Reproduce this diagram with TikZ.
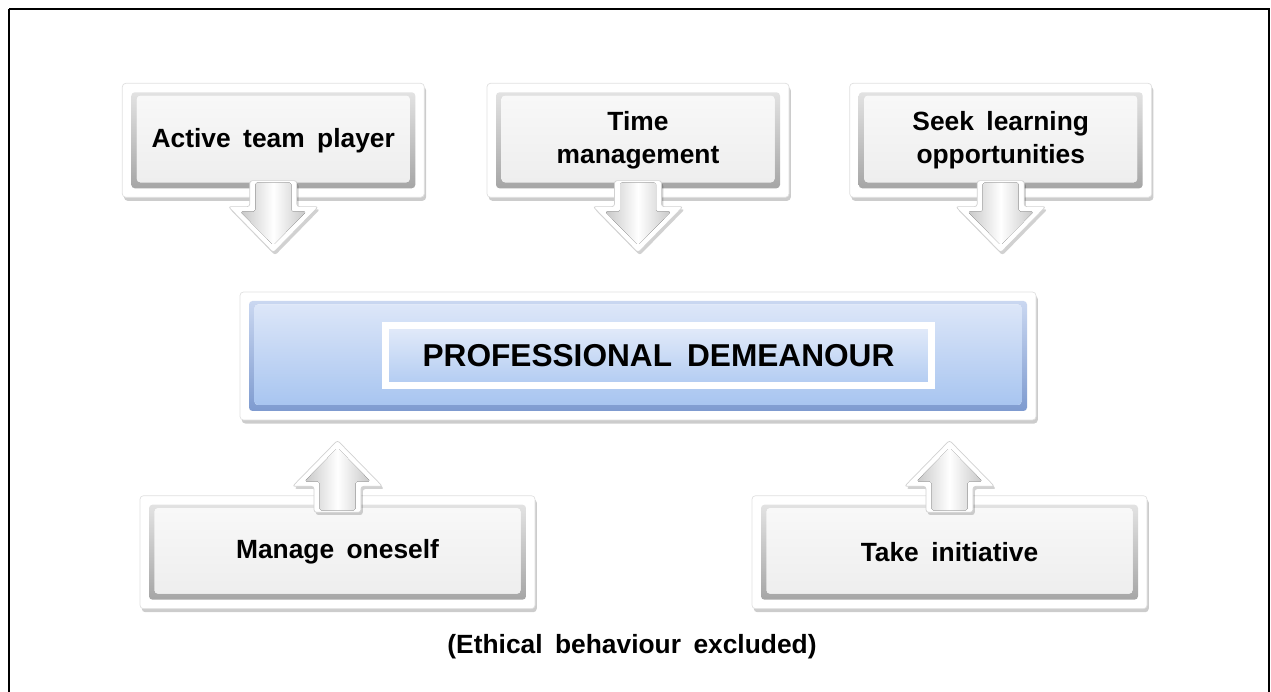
\documentclass[tikz,border=0pt]{standalone}
\usepackage{fontspec}
\setmainfont{Liberation Sans}[WordSpace=1.7]
\usepackage{tikz}
\usetikzlibrary{positioning,calc,shadows}
\definecolor{greytop}{RGB}{248,248,248}
\definecolor{greybot}{RGB}{238,238,238}
\definecolor{bevgtop}{RGB}{232,232,232}
\definecolor{bevgbot}{RGB}{160,160,160}
\definecolor{bluetop}{RGB}{220,230,248}
\definecolor{bluebot}{RGB}{168,197,240}
\definecolor{bevbtop}{RGB}{208,220,243}
\definecolor{bevbbot}{RGB}{120,150,205}
\tikzset{
  frame/.style={rectangle, rounded corners=2pt, draw=black!12, fill=white, inner sep=0pt, align=center,
    drop shadow={shadow xshift=1pt, shadow yshift=-2pt, opacity=0.2, fill=black}},
  greybox/.style={frame, font=\bfseries\fontsize{15}{19}\selectfont,
    path picture={
      \fill[top color=bevgtop, bottom color=bevgbot] ($(path picture bounding box.south west)+(0.18,0.18)$) rectangle ($(path picture bounding box.north east)+(-0.18,-0.18)$);
      \fill[top color=greytop, bottom color=greybot] ($(path picture bounding box.south west)+(0.29,0.3)$) rectangle ($(path picture bounding box.north east)+(-0.29,-0.25)$);
    }},
  topbox/.style={greybox, minimum width=6.04cm, minimum height=2.28cm},
  botbox/.style={greybox, minimum width=7.9cm, minimum height=2.26cm},
  centre/.style={frame, minimum width=15.92cm, minimum height=2.56cm,
    path picture={
      \fill[top color=bevbtop, bottom color=bevbbot] ($(path picture bounding box.south west)+(0.18,0.18)$) rectangle ($(path picture bounding box.north east)+(-0.18,-0.18)$);
      \fill[top color=bluetop, bottom color=bluebot] ($(path picture bounding box.south west)+(0.29,0.3)$) rectangle ($(path picture bounding box.north east)+(-0.29,-0.25)$);
    }},
  title/.style={rectangle, draw=white, line width=0.14cm, top color=bluetop!80!white, bottom color=bluebot!90!white,
    minimum width=10.92cm, minimum height=1.2cm, font=\bfseries\fontsize{18}{22}\selectfont},
  note/.style={font=\bfseries\fontsize{15}{19}\selectfont, inner sep=0pt},
  blockout/.style={fill=white, draw=black!18, line width=0.4pt, rounded corners=1.5pt,
    drop shadow={shadow xshift=1pt, shadow yshift=-1.5pt, opacity=0.18, fill=black}},
  blockin/.style={left color=black!22, right color=black!22, middle color=white}
}

\begin{document}
\begin{tikzpicture}
	\useasboundingbox (0,0) rectangle (25.42,-13.84);
	\draw[line width=1.4pt] (0.18,-0.18) -- (25.38,-0.18) -- (25.38,-14.2) (0.18,-0.18) -- (0.18,-14.2);

	\node[centre] (cen) at (12.76,-7.12) {};
	\node[title] (label) at ($(cen.center)+(0.41,0)$) {PROFESSIONAL DEMEANOUR};

	\node[topbox, above=1.88cm of cen] (tm) {Time\\management};
	\node[topbox, left=1.24cm of tm] (atp) {Active team player};
	\node[topbox, right=1.2cm of tm] (slo) {Seek learning\\opportunities};

	\node[botbox, below right=1.5cm and -2cm of cen.south west] (mo) {Manage oneself};
	\node[botbox, below left=1.5cm and -2.22cm of cen.south east] (ti) {Take initiative};

	\node[note] (excl) at ($(cen.south |- mo.south)+(-0.12,-0.76)$) {(Ethical behaviour excluded)};

	% block arrows, down from the top row and up from the bottom row
	\foreach \n/\d in {atp.south/1, tm.south/1, slo.south/1, mo.north/-1, ti.north/-1}{
		\begin{scope}[shift={(\n)}, yscale=\d]
			\draw[blockout] (-0.47,0.34) -- (-0.47,-0.18) -- (-0.9,-0.18) -- (0,-1.1) -- (0.9,-0.18) -- (0.47,-0.18) -- (0.47,0.34) -- cycle;
			\fill[blockin, rounded corners=1pt] (-0.36,0.3) -- (-0.36,-0.28) -- (-0.66,-0.28) -- (0,-0.95) -- (0.66,-0.28) -- (0.36,-0.28) -- (0.36,0.3) -- cycle;
		\end{scope}
	}
\end{tikzpicture}
\end{document}
